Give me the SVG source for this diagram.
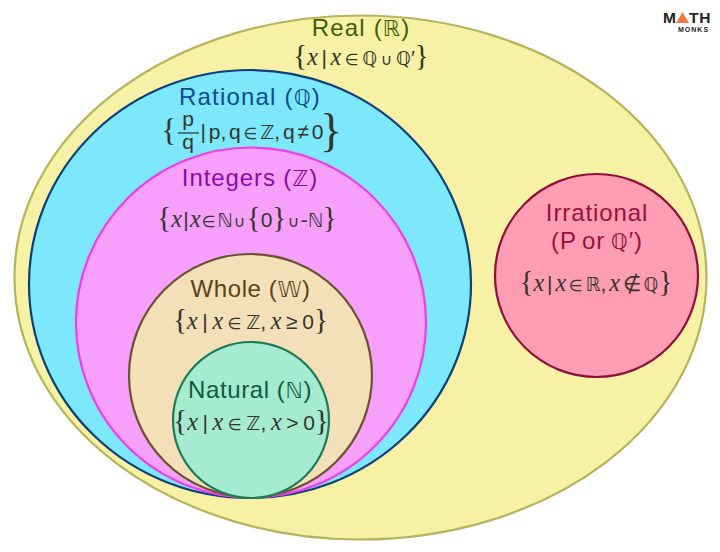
<svg xmlns="http://www.w3.org/2000/svg" width="720" height="552" viewBox="0 0 720 552">
<style>
.t{font-family:"Liberation Sans",Arial,sans-serif;font-size:24px;text-anchor:middle;letter-spacing:.9px}
.m{font-family:"Liberation Sans",Arial,sans-serif;font-size:21px;fill:#33352c;text-anchor:middle;word-spacing:-3px}
.d{font-family:"DejaVu Sans",sans-serif;font-size:.9em}
.i{font-family:"Liberation Serif",serif;font-style:italic;font-size:1.15em}
.o{font-family:"DejaVu Sans",sans-serif;font-size:.75em}
.b{font-family:"Liberation Serif",serif;font-size:1.4em}
.big{font-family:"Liberation Serif",serif;fill:#33352c;text-anchor:middle}
.wide{letter-spacing:1.2px}
.tight{letter-spacing:.6px}
.w1{word-spacing:-2.2px}
.w2{word-spacing:-4.5px}
.w3{word-spacing:-1.2px}
circle,ellipse{stroke-width:2.2}
</style>
<rect width="720" height="552" fill="#fff"/>
<g id="real"><ellipse cx="360.500" cy="277.500" rx="346" ry="262" fill="#f6f1a4" stroke="#b5b45c"/>
<text class="t wide" x="361" y="36" fill="#3f5c0b">Real (<tspan class="d">ℝ</tspan>)</text>
<text class="m w1" x="361" y="65"><tspan class="b">{</tspan><tspan class="i">x</tspan> | <tspan class="i">x</tspan> <tspan class="o">∈</tspan> <tspan class="d">ℚ</tspan> <tspan class="o">∪</tspan> <tspan class="d">ℚ</tspan>′<tspan class="b">}</tspan></text></g>
<g id="rational"><ellipse cx="250" cy="284" rx="221" ry="214" fill="#7de7fb" stroke="#0e3f78"/>
<text class="t wide" x="250" y="105" fill="#0f4a8f">Rational (<tspan class="d">ℚ</tspan>)</text>
<text class="m" x="188" y="126">p</text>
<path d="M178 133H199" stroke="#33352c" stroke-width="1.200" fill="none"/>
<text class="m" x="188" y="149">q</text>
<text class="big" x="169" y="141" font-size="32">{</text>
<text class="big" x="331" y="146" font-size="46">}</text>
<text class="m" x="262" y="139">| p, q <tspan class="o">∈</tspan> <tspan class="d">ℤ</tspan>, q ≠ 0</text></g>
<g id="integers"><circle cx="251" cy="322.500" r="175" fill="#f7a0fb" stroke="#f03de8"/>
<text class="t" x="250" y="186" fill="#8a0aa5">Integers (<tspan class="d">ℤ</tspan>)</text>
<text class="m w2" x="247" y="227"><tspan class="b">{</tspan><tspan class="i">x</tspan> | <tspan class="i">x</tspan> <tspan class="o">∈</tspan> <tspan class="d">ℕ</tspan> <tspan class="o">∪</tspan> <tspan class="b">{</tspan>0<tspan class="b">}</tspan> <tspan class="o">∪</tspan> -<tspan class="d">ℕ</tspan><tspan class="b">}</tspan></text></g>
<g id="whole"><circle cx="250.500" cy="375.500" r="121.500" fill="#f4e0b8" stroke="#6a5230"/>
<text class="t tight" x="250.500" y="297" fill="#5a4218">Whole (<tspan class="d">𝕎</tspan>)</text>
<text class="m w3" x="250.500" y="329"><tspan class="b">{</tspan><tspan class="i">x</tspan> | <tspan class="i">x</tspan> <tspan class="o">∈</tspan> <tspan class="d">ℤ</tspan>, <tspan class="i">x</tspan> ≥ 0<tspan class="b">}</tspan></text></g>
<g id="natural"><circle cx="251" cy="420" r="78" fill="#a5ebcf" stroke="#1d7a58"/>
<text class="t tight" x="250" y="398" fill="#0f5a40">Natural (<tspan class="d">ℕ</tspan>)</text>
<text class="m w3" x="251" y="430"><tspan class="b">{</tspan><tspan class="i">x</tspan> | <tspan class="i">x</tspan> <tspan class="o">∈</tspan> <tspan class="d">ℤ</tspan>, <tspan class="i">x</tspan> &gt; 0<tspan class="b">}</tspan></text></g>
<g id="irrational"><circle cx="596.500" cy="275.500" r="101.500" fill="#fe9db3" stroke="#8f0f38"/>
<text class="t" x="597" y="221" fill="#9a0f3a">Irrational</text>
<text class="t" x="597" y="249" fill="#9a0f3a" style="word-spacing:-2px">(P or <tspan class="d">ℚ</tspan>′)</text>
<text class="m" x="596" y="291"><tspan class="b">{</tspan><tspan class="i">x</tspan> | <tspan class="i">x</tspan> <tspan class="o">∈</tspan> <tspan class="d">ℝ</tspan>, <tspan class="i">x</tspan> ∉ <tspan class="d">ℚ</tspan><tspan class="b">}</tspan></text></g>
<g id="logo"><text x="663" y="23" font-family="Liberation Sans" font-weight="700" font-size="15.500" fill="#222">M</text>
<path d="M676 23 682.500 12 689 23Z" fill="#ee7a48"/>
<text x="689" y="23" font-family="Liberation Sans" font-weight="700" font-size="15.500" letter-spacing=".8" fill="#222">TH</text>
<text x="678" y="31.500" font-family="Liberation Sans" font-weight="700" font-size="7" letter-spacing="1" fill="#222">MONKS</text></g>
</svg>
